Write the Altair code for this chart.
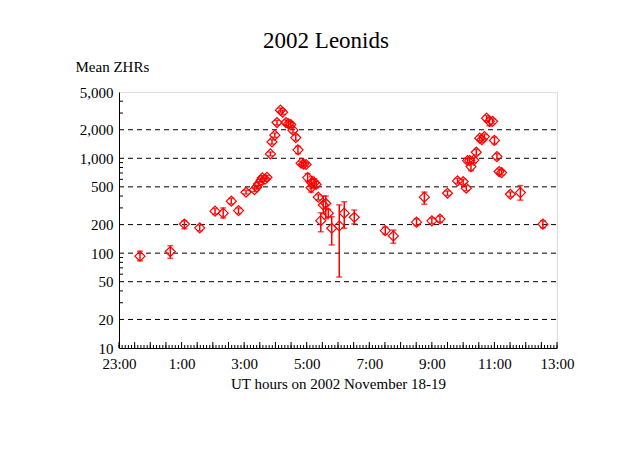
import altair as alt
import pandas as pd

# hours after 23:00 UT on Nov 18
T = [0.67, 1.64, 2.09, 2.58, 3.07, 3.33, 3.59, 3.82, 4.06, 4.33, 4.40, 4.46, 4.54, 4.58,
     4.67, 4.73, 4.84, 4.89, 4.98, 5.05, 5.16, 5.23, 5.34, 5.42, 5.49, 5.56, 5.65, 5.72,
     5.82, 5.90, 5.98, 6.03, 6.16, 6.24, 6.14, 6.30, 6.37, 6.45, 6.53, 6.61, 6.69, 6.80,
     7.04, 7.20, 7.52, 8.51, 8.77, 9.51, 9.76, 10.00, 10.26, 10.50, 10.82, 11.00, 11.10,
     11.14, 11.25, 11.21, 11.34, 11.42, 11.53, 11.60, 11.68, 11.75, 11.84, 11.94, 12.00,
     12.08, 12.15, 12.23, 12.51, 12.83, 13.55]
ZHR = [93, 104, 203, 185, 277, 264, 353, 281, 439, 467, 496, 537, 589, 622,
       602, 631, 1112, 1489, 1754, 2382, 3215, 3060, 2382, 2307, 2268, 1979, 1653, 1227,
       888, 870, 860, 626, 554, 554, 489, 530, 389, 220, 322, 334, 264, 183,
       194, 264, 239, 173, 152, 212, 389, 219, 229, 428, 578, 568, 484,
       946, 817, 946, 957, 1159, 1629, 1569, 1694, 2647, 2453, 2453, 1544,
       1042, 725, 707, 418, 435, 202]
LO = [83, 88, 181, 172, 258, 235, 330, 262, 420, 445, 470, 510, 560, 590,
      575, 600, 1060, 1410, 1660, 2250, 3050, 2900, 2220, 2150, 2120, 1850, 1540, 1120,
      850, 830, 820, 570, 480, 500, 440, 490, 365, 168, 260, 230, 240, 122,
      56, 183, 203, 158, 127, 195, 328, 205, 212, 405, 545, 530, 455,
      890, 740, 890, 900, 1080, 1530, 1470, 1590, 2480, 2200, 2300, 1420,
      970, 680, 665, 395, 362, 185]
HI = [105, 120, 220, 198, 296, 300, 378, 300, 460, 490, 520, 565, 620, 655,
      630, 660, 1165, 1570, 1850, 2520, 3380, 3220, 2540, 2460, 2420, 2110, 1770, 1340,
      930, 910, 900, 690, 640, 610, 540, 575, 415, 266, 400, 400, 290, 242,
      323, 348, 285, 188, 175, 230, 440, 235, 246, 452, 615, 605, 515,
      1000, 900, 1000, 1015, 1240, 1730, 1670, 1800, 2820, 2700, 2610, 1670,
      1120, 770, 750, 442, 516, 220]

Y_LABELS = [10, 20, 50, 100, 200, 500, 1000, 2000, 5000]
Y_GRID = [20, 50, 100, 200, 500, 1000, 2000]
Y_MINOR = [30, 40, 60, 70, 80, 90, 300, 400, 600, 700, 800, 900, 3000, 4000]
X_LABELS = [0, 2, 4, 6, 8, 10, 12, 14]
X_HALF = [i * 0.5 for i in range(29)]
X_TENTH = [i / 10 for i in range(141)]

W, H = 438, 256
FONT = "Liberation Serif"
RED = "#ff0000"

df = pd.DataFrame({"t": T, "zhr": ZHR, "lo": LO, "hi": HI})
grid_df = pd.DataFrame({"v": Y_GRID})
yminor_df = pd.DataFrame({"v": Y_MINOR})
xhalf_df = pd.DataFrame({"v": X_HALF})
xtenth_df = pd.DataFrame({"v": X_TENTH})

xs = alt.Scale(domain=[0, 14], nice=False, zero=False)
ys = alt.Scale(type="log", domain=[10, 5000], nice=False)

XTITLE = "UT hours on 2002 November 18-19"
YTITLE = "Mean ZHRs"

xaxis = alt.Axis(values=X_LABELS, labelExpr="((datum.value + 23) % 24) + ':00'",
                 ticks=False, grid=False, labelFlush=False, labelOverlap=False,
                 labelFont=FONT, labelFontSize=15, labelColor="black", labelPadding=8,
                 domainColor="black", titleFont=FONT, titleFontSize=15,
                 titleFontWeight="normal", titleColor="black", titlePadding=5)
yaxis = alt.Axis(values=Y_LABELS, format=",", ticks=False, grid=False,
                 labelFlush=False, labelOverlap=False,
                 labelFont=FONT, labelFontSize=15, labelColor="black", labelPadding=6,
                 domainColor="black", titleFont=FONT, titleFontSize=15,
                 titleFontWeight="normal", titleColor="black", titleAngle=0,
                 titleAlign="left", titleBaseline="alphabetic", titleX=-44, titleY=-21)


def X(field):
    return alt.X(field, type="quantitative", scale=xs, axis=xaxis, title=XTITLE)


def Y(field):
    return alt.Y(field, type="quantitative", scale=ys, axis=yaxis, title=YTITLE)


grid = alt.Chart(grid_df).mark_rule(color="black", strokeWidth=1, strokeDash=[5, 4]).encode(
    y=Y("v"), x=alt.value(0), x2=alt.value(W))
yminor = alt.Chart(yminor_df).mark_rule(color="black", strokeWidth=1).encode(
    y=Y("v"), x=alt.value(0), x2=alt.value(4))
xtenth = alt.Chart(xtenth_df).mark_rule(color="black", strokeWidth=1).encode(
    x=X("v"), y=alt.value(H - 3), y2=alt.value(H))
xhalf = alt.Chart(xhalf_df).mark_rule(color="black", strokeWidth=1).encode(
    x=X("v"), y=alt.value(H - 6), y2=alt.value(H))

err = alt.Chart(df).mark_rule(color=RED, strokeWidth=1.5).encode(
    x=X("t"), y=Y("lo"), y2="hi")
cap_lo = alt.Chart(df).mark_tick(color=RED, orient="horizontal", size=6, thickness=1.5).encode(
    x=X("t"), y=Y("lo"))
cap_hi = alt.Chart(df).mark_tick(color=RED, orient="horizontal", size=6, thickness=1.5).encode(
    x=X("t"), y=Y("hi"))
pts = alt.Chart(df).mark_point(shape="diamond", filled=False, color=RED, size=100,
                               strokeWidth=1.2, opacity=1).encode(
    x=X("t"), y=Y("zhr"))

chart = alt.layer(grid, yminor, xtenth, xhalf, err, cap_lo, cap_hi, pts).properties(
    width=W, height=H,
    title=alt.TitleParams("2002 Leonids", font=FONT, fontSize=23, fontWeight="normal",
                          color="black", dx=-12, offset=6),
    autosize=alt.AutoSizeParams(type="none"),
    padding={"left": 111, "top": 84, "right": 74, "bottom": 95},
).configure_view(stroke="black", strokeWidth=1).configure(background="white")

chart.save("out.html", embed_options={"renderer": "svg", "actions": False})
